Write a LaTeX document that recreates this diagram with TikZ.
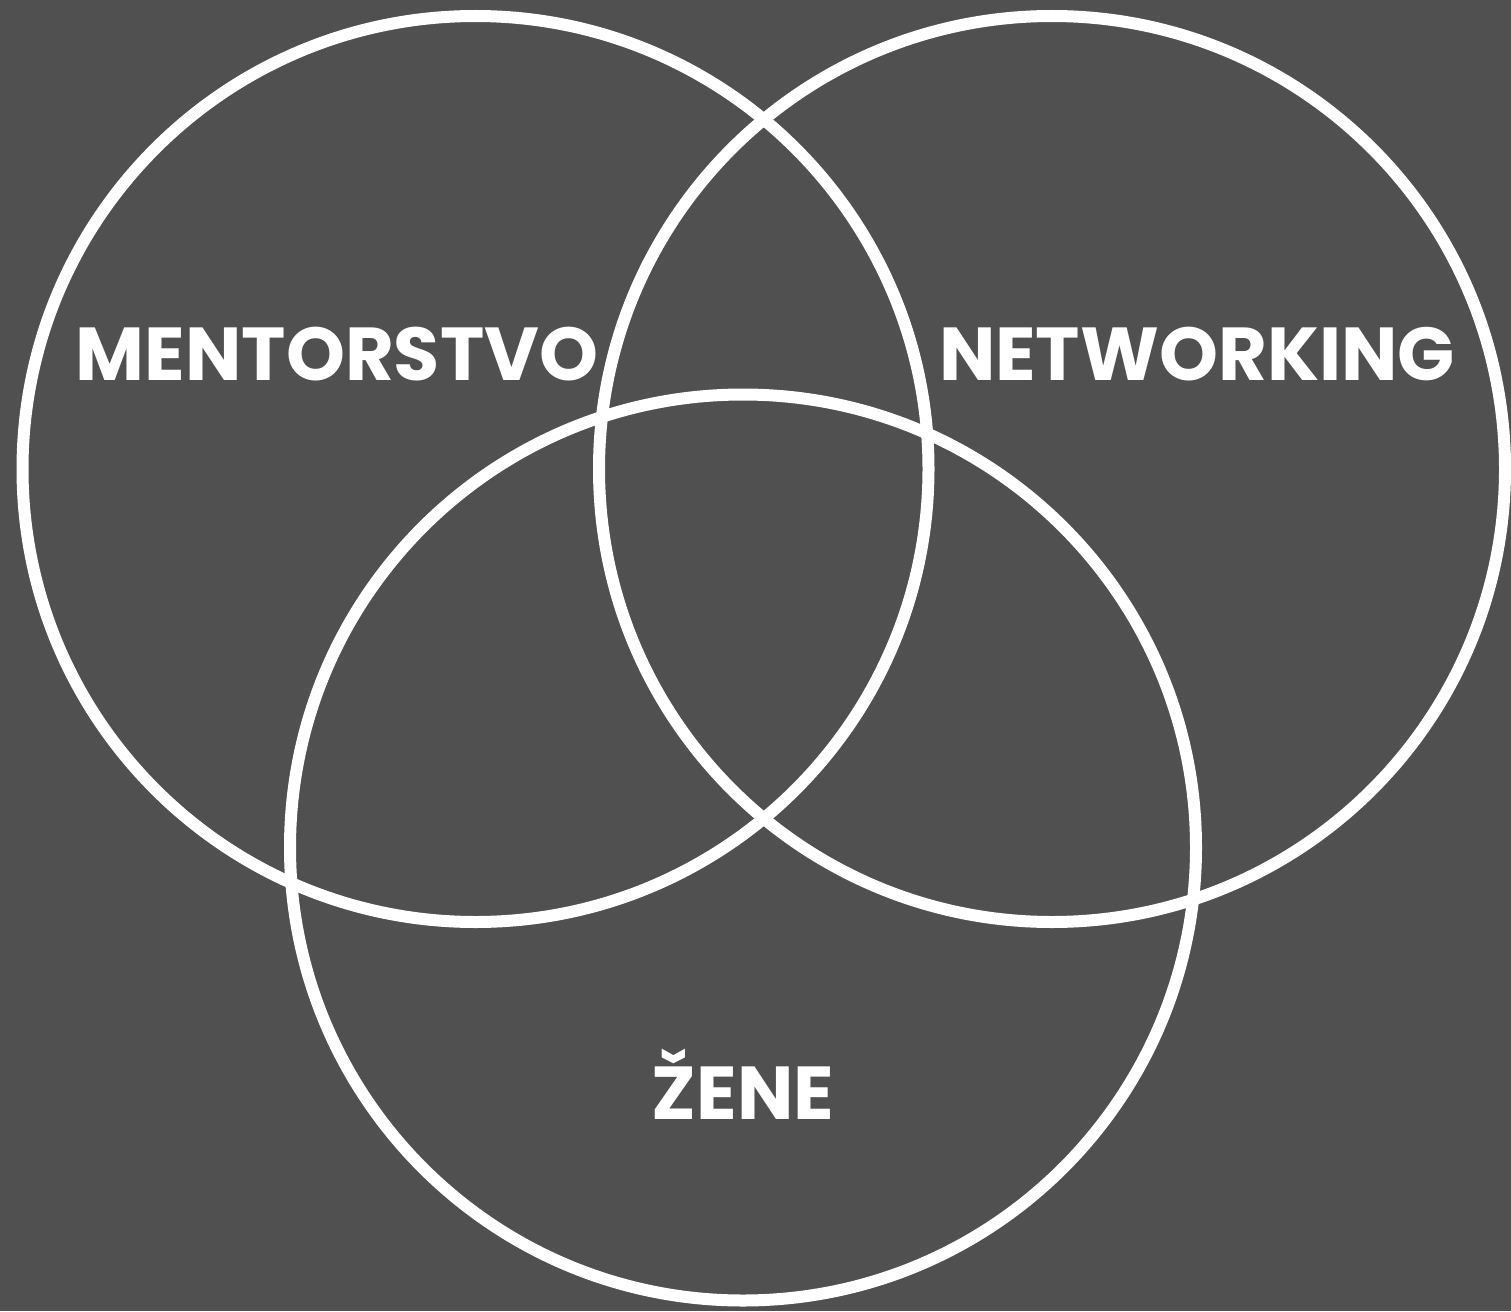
\documentclass[tikz,border=0pt]{standalone}
\usepackage{fontspec}
\setmainfont{Poppins}[UprightFont=* Bold]
\definecolor{bg}{HTML}{505050}
\begin{document}
\begin{tikzpicture}[x=1pt,y=-1pt,
  ring/.style={draw=white,line width=12pt},
  lbl/.style={text=white,font=\fontsize{75}{75}\selectfont,inner sep=0pt,anchor=base}]
\fill[bg] (0,0) rectangle (1511,1311);
\useasboundingbox (0,0) rectangle (1511,1311);
\node[ring,circle,minimum size=906pt,inner sep=0pt] (m) at (475.5,469) {};
\node[ring,circle,minimum size=906pt,inner sep=0pt] (n) at (1052,469) {};
\node[ring,circle,minimum size=906pt,inner sep=0pt] (z) at (743,847.5) {};
\node[lbl] (tm) at (337,380) {MENTORSTVO};
\node[lbl] (tn) at (1197,380) {NETWORKING};
\node[lbl] (tz) at (743,1119) {ŽENE};
\end{tikzpicture}
\end{document}
